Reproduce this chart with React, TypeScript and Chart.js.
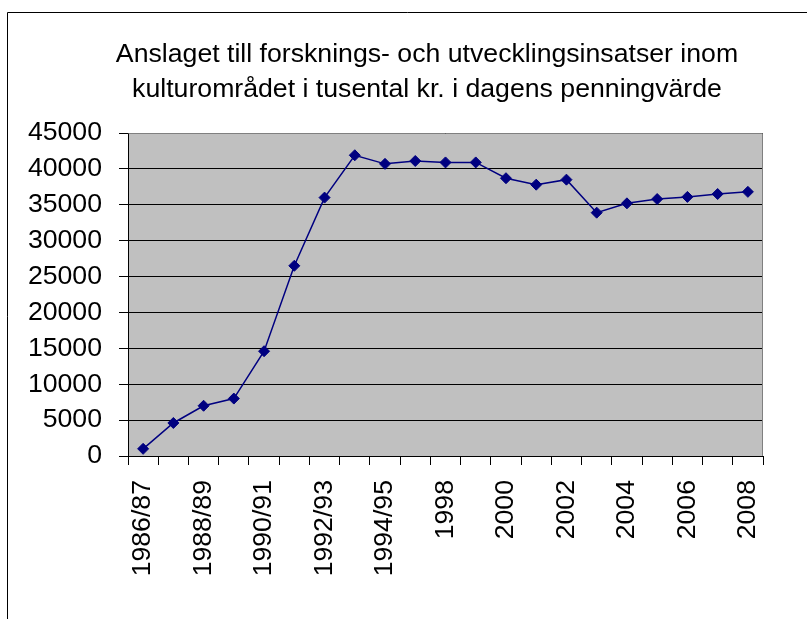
import React, { useEffect, useRef } from 'react';
import { Chart, registerables } from 'chart.js';

Chart.register(...registerables);

const categories: string[] = [
  '1986/87', '1987/88', '1988/89', '1989/90', '1990/91', '1991/92', '1992/93',
  '1993/94', '1994/95', '1995/96', '1998', '1999', '2000', '2001', '2002',
  '2003', '2004', '2005', '2006', '2007', '2008',
];

const values: number[] = [
  1000, 4600, 7000, 8000, 14600, 26500, 36000, 41900, 40700, 41100, 40900,
  40900, 38700, 37800, 38500, 33900, 35200, 35800, 36100, 36500, 36800,
];

const shownTickLabels: string[] = [
  '1986/87', '1988/89', '1990/91', '1992/93', '1994/95', '1998', '2000',
  '2002', '2004', '2006', '2008',
];

const titleLines: string[] = [
  'Anslaget till forsknings- och utvecklingsinsatser inom',
  'kulturområdet i tusental kr. i dagens penningvärde',
];

const yMin = 0;
const yMax = 45000;
const yStep = 5000;

const FONT = '"Liberation Sans", Arial, sans-serif';

export default function App() {
  const ref = useRef<HTMLCanvasElement | null>(null);

  useEffect(() => {
    const canvas = ref.current;
    if (!canvas) return;

    const decor = {
      id: 'decor',
      beforeDraw(chart: any) {
        const { ctx, chartArea: a } = chart;
        ctx.save();
        ctx.fillStyle = '#ffffff';
        ctx.fillRect(0, 0, chart.width, chart.height);
        ctx.fillStyle = '#c0c0c0';
        ctx.fillRect(a.left, a.top, a.right - a.left, a.bottom - a.top);
        ctx.restore();
      },
      afterDraw(chart: any) {
        const { ctx, chartArea: a } = chart;
        ctx.save();
        // outer chart border
        ctx.strokeStyle = '#000000';
        ctx.lineWidth = 1;
        ctx.beginPath();
        ctx.moveTo(7.5, chart.height + 5);
        ctx.lineTo(7.5, 12.5);
        ctx.lineTo(chart.width + 5, 12.5);
        ctx.stroke();
        // plot top & right border
        ctx.strokeStyle = '#808080';
        ctx.beginPath();
        ctx.moveTo(Math.round(a.left) + 0.5, Math.round(a.top) + 0.5);
        ctx.lineTo(Math.round(a.right) - 0.5, Math.round(a.top) + 0.5);
        ctx.lineTo(Math.round(a.right) - 0.5, Math.round(a.bottom));
        ctx.stroke();
        // title
        ctx.fillStyle = '#000000';
        ctx.font = `26.67px ${FONT}`;
        ctx.textAlign = 'center';
        ctx.textBaseline = 'alphabetic';
        ctx.fillText(titleLines[0], 427, 62);
        ctx.fillText(titleLines[1], 427, 97);
        ctx.restore();
      },
    };

    const chart = new Chart(canvas, {
      type: 'line',
      data: {
        labels: categories,
        datasets: [
          {
            data: values,
            borderColor: '#000080',
            backgroundColor: '#000080',
            borderWidth: 1.5,
            pointStyle: 'rectRot',
            pointRadius: 5.5,
            pointBorderWidth: 1,
            pointBackgroundColor: '#000080',
            pointBorderColor: '#000080',
            tension: 0,
            fill: false,
          },
        ],
      },
      options: {
        animation: false,
        responsive: false,
        maintainAspectRatio: false,
        devicePixelRatio: 1,
        layout: { padding: { top: 133, right: 44, bottom: 0, left: 0 } },
        plugins: {
          legend: { display: false },
          title: { display: false },
          tooltip: { enabled: false },
        },
        scales: {
          x: {
            type: 'category',
            offset: true,
            grid: {
              offset: true,
              drawOnChartArea: false,
              drawTicks: true,
              tickLength: 9,
              color: '#000000',
            },
            border: { display: true, color: '#000000', width: 1 },
            ticks: {
              autoSkip: false,
              minRotation: 90,
              maxRotation: 90,
              padding: 15,
              color: '#000000',
              font: { family: FONT, size: 26.67 },
              callback: (_v: any, i: number) =>
                shownTickLabels.includes(categories[i]) ? categories[i] : '',
            },
            afterFit: (s: any) => {
              s.height = 163;
            },
          },
          y: {
            min: yMin,
            max: yMax,
            grid: { color: '#000000', lineWidth: 1, tickLength: 9, drawTicks: true },
            border: { display: true, color: '#000000', width: 1 },
            ticks: {
              stepSize: yStep,
              padding: 17,
              color: '#000000',
              font: { family: FONT, size: 26.67 },
              callback: (v: any) => String(v),
            },
            afterFit: (s: any) => {
              s.width = 128;
            },
          },
        },
      },
      plugins: [decor],
    });

    return () => chart.destroy();
  }, []);

  return (
    <div style={{ position: 'absolute', left: 0, top: 0, width: 807, height: 619 }}>
      <canvas ref={ref} width={807} height={619} style={{ width: 807, height: 619, display: 'block' }} />
    </div>
  );
}
